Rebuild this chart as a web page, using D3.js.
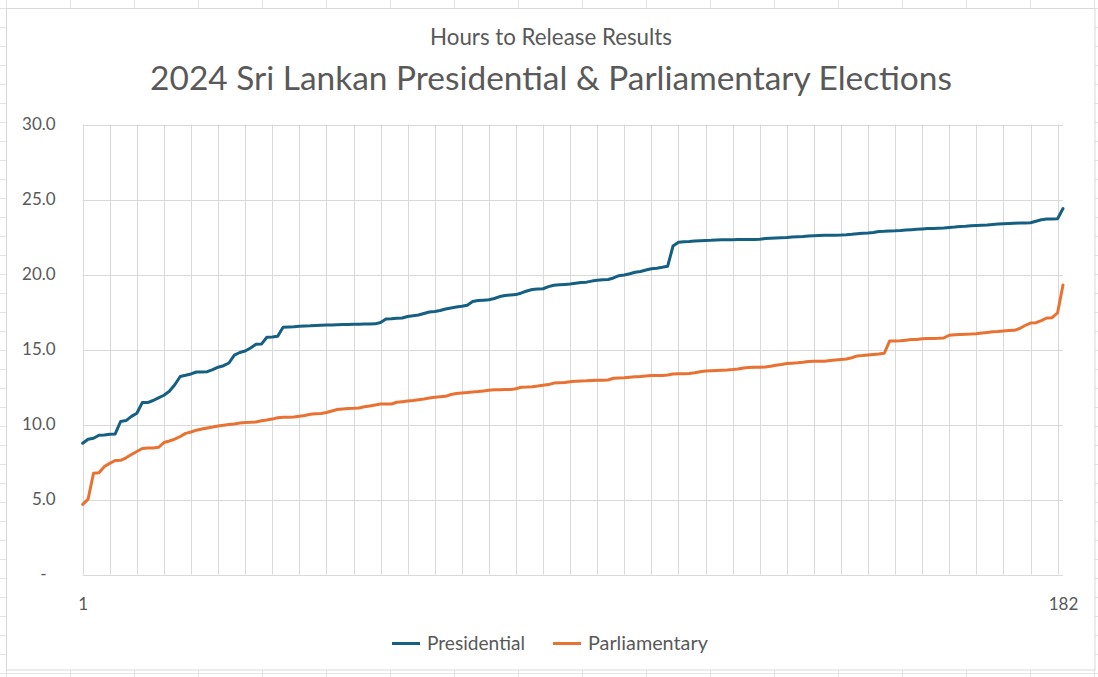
<!DOCTYPE html>
<html>
<head>
<meta charset="utf-8">
<script src="https://cdn.jsdelivr.net/npm/d3@7"></script>
<style>
  body { margin: 0; background: #fff; }
  svg { display: block; font-family: Lato, "Open Sans", sans-serif; }
  text { fill: #595959; }
  .sheet line { stroke: #e3e3e3; stroke-width: 1; }
  .grid line { stroke: #d9d9d9; stroke-width: 1; }
</style>
</head>
<body>
<svg id="chart" width="1098" height="677"></svg>
<script>
const titleText = "2024 Sri Lankan Presidential & Parliamentary Elections";
const subtitleText = "Hours to Release Results";
const seriesNames = ["Presidential", "Parliamentary"];
const seriesColors = ["#156082", "#E97132"];
const yTicks = [0, 5, 10, 15, 20, 25, 30];
const xLabels = [1, 182];

// hours after polls closed, sorted, one value per result released
const presidential = [
  8.75, 9.02, 9.08, 9.28, 9.30, 9.35, 9.37, 10.20, 10.26, 10.54,
  10.75, 11.46, 11.46, 11.60, 11.78, 11.95, 12.22, 12.65, 13.20, 13.28,
  13.37, 13.50, 13.50, 13.52, 13.66, 13.82, 13.92, 14.10, 14.62, 14.80,
  14.90, 15.10, 15.35, 15.36, 15.82, 15.84, 15.88, 16.48, 16.50, 16.52,
  16.55, 16.57, 16.58, 16.60, 16.62, 16.63, 16.64, 16.65, 16.66, 16.67,
  16.68, 16.69, 16.70, 16.70, 16.71, 16.80, 17.03, 17.05, 17.08, 17.10,
  17.20, 17.25, 17.30, 17.40, 17.50, 17.53, 17.60, 17.70, 17.77, 17.83,
  17.88, 17.95, 18.20, 18.26, 18.29, 18.32, 18.40, 18.53, 18.60, 18.63,
  18.66, 18.77, 18.90, 19.00, 19.03, 19.05, 19.19, 19.28, 19.31, 19.34,
  19.37, 19.42, 19.47, 19.49, 19.56, 19.62, 19.65, 19.67, 19.77, 19.92,
  19.97, 20.05, 20.15, 20.20, 20.30, 20.38, 20.42, 20.48, 20.55, 21.90,
  22.15, 22.18, 22.20, 22.23, 22.25, 22.27, 22.28, 22.30, 22.31, 22.32,
  22.32, 22.33, 22.33, 22.34, 22.34, 22.35, 22.40, 22.42, 22.44, 22.45,
  22.46, 22.50, 22.52, 22.54, 22.57, 22.59, 22.60, 22.61, 22.62, 22.62,
  22.63, 22.65, 22.68, 22.72, 22.75, 22.77, 22.80, 22.87, 22.88, 22.90,
  22.91, 22.93, 22.96, 22.99, 23.02, 23.04, 23.06, 23.07, 23.09, 23.10,
  23.13, 23.16, 23.20, 23.22, 23.25, 23.27, 23.29, 23.30, 23.33, 23.36,
  23.38, 23.40, 23.42, 23.43, 23.44, 23.45, 23.55, 23.65, 23.70, 23.70,
  23.72, 24.40
];

const parliamentary = [
  4.68, 5.03, 6.75, 6.78, 7.20, 7.41, 7.60, 7.61, 7.78, 8.00,
  8.20, 8.40, 8.43, 8.44, 8.48, 8.80, 8.90, 9.03, 9.20, 9.41,
  9.50, 9.62, 9.70, 9.77, 9.83, 9.90, 9.95, 10.00, 10.04, 10.10,
  10.14, 10.15, 10.17, 10.25, 10.30, 10.36, 10.45, 10.48, 10.49, 10.50,
  10.55, 10.60, 10.68, 10.71, 10.73, 10.80, 10.90, 11.00, 11.04, 11.07,
  11.08, 11.10, 11.18, 11.24, 11.30, 11.36, 11.37, 11.37, 11.48, 11.52,
  11.56, 11.60, 11.65, 11.70, 11.76, 11.82, 11.85, 11.88, 12.00, 12.07,
  12.10, 12.13, 12.17, 12.20, 12.24, 12.28, 12.31, 12.32, 12.33, 12.34,
  12.38, 12.49, 12.50, 12.52, 12.56, 12.61, 12.66, 12.76, 12.78, 12.80,
  12.85, 12.88, 12.90, 12.91, 12.93, 12.95, 12.95, 12.97, 13.08, 13.10,
  13.12, 13.15, 13.18, 13.20, 13.23, 13.26, 13.26, 13.27, 13.30, 13.36,
  13.38, 13.39, 13.40, 13.45, 13.52, 13.56, 13.58, 13.60, 13.62, 13.63,
  13.66, 13.70, 13.76, 13.80, 13.81, 13.81, 13.83, 13.88, 13.95, 14.00,
  14.06, 14.09, 14.11, 14.15, 14.20, 14.21, 14.21, 14.22, 14.26, 14.30,
  14.34, 14.37, 14.45, 14.57, 14.60, 14.64, 14.67, 14.70, 14.75, 15.57,
  15.57, 15.58, 15.62, 15.66, 15.67, 15.72, 15.73, 15.74, 15.75, 15.77,
  15.95, 15.98, 16.00, 16.02, 16.03, 16.05, 16.10, 16.14, 16.18, 16.20,
  16.23, 16.26, 16.28, 16.40, 16.60, 16.76, 16.79, 16.92, 17.10, 17.12,
  17.45, 19.30
];

const W = 1098, H = 677;
const svg = d3.select("#chart");

// spreadsheet cells behind the chart object
let sheet = svg.append("g").attr("class", "sheet");
sheet.selectAll(".col").data(d3.range(0, 18)).enter().append("line")
    .attr("x1", d => 6.5 + 64 * d).attr("x2", d => 6.5 + 64 * d)
    .attr("y1", 0).attr("y2", H);
sheet.selectAll(".row").data(d3.range(0, 36)).enter().append("line")
    .attr("x1", 0).attr("x2", W)
    .attr("y1", d => 8.5 + 19 * d).attr("y2", d => 8.5 + 19 * d);

// chart area
svg.append("rect")
    .attr("x", 6.5).attr("y", 8.5)
    .attr("width", 1088.5).attr("height", 661.5)
    .attr("fill", "#fff").attr("stroke", "#d9d9d9");

const plot = { left: 82.7, right: 1063, top: 124.5, bottom: 574.5 };

let x = d3.scaleLinear().domain([1, presidential.length]).range([plot.left, plot.right]);
let y = d3.scaleLinear().domain([0, 30]).range([plot.bottom, plot.top]);

// gridlines
let grid = svg.append("g").attr("class", "grid");
grid.selectAll(".v").data(d3.range(1, presidential.length, 5)).enter().append("line")
    .attr("x1", d => Math.round(x(d)) + 0.5).attr("x2", d => Math.round(x(d)) + 0.5)
    .attr("y1", plot.top).attr("y2", plot.bottom);
grid.selectAll(".h").data(yTicks).enter().append("line")
    .attr("x1", plot.left).attr("x2", plot.right)
    .attr("y1", d => Math.round(y(d)) + 0.5).attr("y2", d => Math.round(y(d)) + 0.5);

// axes (labels only)
let yAxis = svg.append("g")
    .attr("transform", "translate(" + plot.left + ",0)")
    .call(d3.axisLeft(y).tickValues(yTicks).tickSize(0).tickPadding(27)
        .tickFormat(d => d === 0 ? "-" : d3.format(".1f")(d)));
yAxis.select(".domain").remove();
yAxis.selectAll("text")
    .attr("font-size", 17).attr("font-family", "Lato").style("fill", "#595959")
    .attr("dx", d => d === 0 ? -9 : 0);

let xAxis = svg.append("g")
    .attr("transform", "translate(0," + plot.bottom + ")")
    .call(d3.axisBottom(x).tickValues(xLabels).tickSize(0).tickPadding(23)
        .tickFormat(d3.format("d")));
xAxis.select(".domain").remove();
xAxis.selectAll("text")
    .attr("font-size", 17).attr("font-family", "Lato").style("fill", "#595959");

// lines
let line = d3.line()
    .x((d, i) => x(i + 1))
    .y(d => y(d));

[presidential, parliamentary].forEach(function (values, k) {
    svg.append("path")
        .datum(values)
        .attr("d", line)
        .attr("fill", "none")
        .attr("stroke", seriesColors[k])
        .attr("stroke-width", 3)
        .attr("stroke-linejoin", "round")
        .attr("stroke-linecap", "round");
});

function fitWidth(sel, target) {
    let w = sel.node().getComputedTextLength();
    let fs = parseFloat(sel.attr("font-size"));
    sel.attr("font-size", fs * target / w);
}

// titles
let sub = svg.append("text")
    .attr("x", 551).attr("y", 45)
    .attr("text-anchor", "middle")
    .attr("font-size", 20)
    .text(subtitleText);
fitWidth(sub, 242);

let title = svg.append("text")
    .attr("x", 551).attr("y", 90)
    .attr("text-anchor", "middle")
    .attr("font-size", 32)
    .text(titleText);
fitWidth(title, 802);

// legend
const legendX = [392, 553];
const legendW = [98, 120];
let legend = svg.append("g").attr("class", "legend");
seriesNames.forEach(function (name, k) {
    let g = legend.append("g").attr("transform", "translate(" + legendX[k] + ",643.5)");
    g.append("line")
        .attr("x1", 0).attr("x2", 28)
        .attr("stroke", seriesColors[k]).attr("stroke-width", 3);
    let t = g.append("text")
        .attr("x", 35).attr("y", 6)
        .attr("font-size", 18)
        .text(name);
    fitWidth(t, legendW[k]);
});
</script>
</body>
</html>
